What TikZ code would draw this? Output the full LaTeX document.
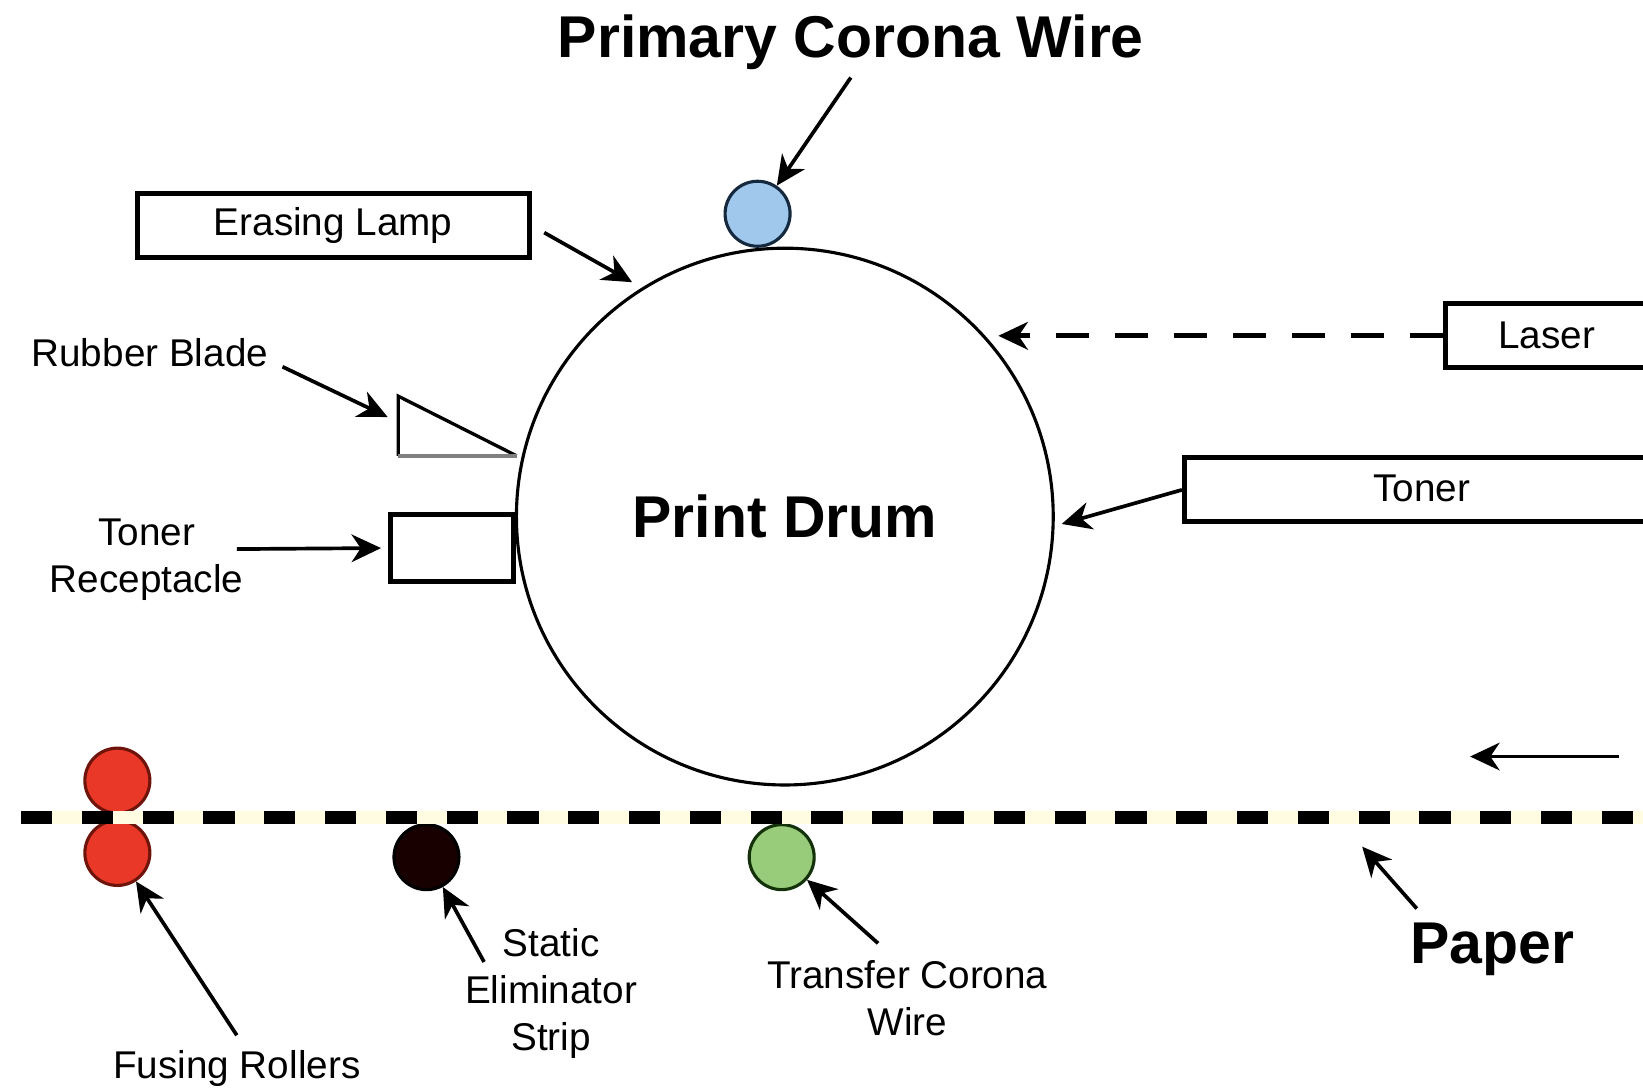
\documentclass[tikz,border=0pt]{standalone}
\usepackage{fontspec}
\setmainfont{Liberation Sans}
\usepackage[dvipsnames]{xcolor}
\usepackage{tikz}
\usetikzlibrary{arrows.meta}

\definecolor{coronablue}{RGB}{160,200,236}
\definecolor{coronaedge}{RGB}{20,40,62}
\definecolor{transfergreen}{RGB}{152,204,122}
\definecolor{transferedge}{RGB}{20,50,10}
\definecolor{fuserred}{RGB}{234,56,40}
\definecolor{fuseredge}{RGB}{110,20,10}
\definecolor{papergap}{RGB}{255,252,226}

\tikzset{
  lbl/.style={font=\fontsize{10.5}{12.8}\selectfont, align=center, inner sep=0pt},
  biglbl/.style={font=\fontsize{16}{19}\selectfont\bfseries, inner sep=0pt},
  partbox/.style={draw, line width=1.3pt, inner sep=0pt, minimum height=0.61cm},
  roller/.style={circle, draw, line width=0.85pt, inner sep=0pt, minimum size=0.62cm},
  pointer/.style={line width=1pt, -{Stealth[length=8pt,width=7.5pt,inset=2.5pt]}},
}

\begin{document}
\begin{tikzpicture}[x=0.01cm, y=-0.01cm]
\useasboundingbox (0,0) rectangle (1568,1038.4);
%
\node[circle, draw, line width=0.85pt, inner sep=0pt, minimum size=5.12cm, biglbl] (drum) at (749,493) {Print Drum};
\node[roller, fill=coronablue, draw=coronaedge] (primary) at (723,204) {};
\node[biglbl] (primarylbl) at (812,40) {Primary Corona Wire};
%
\node[partbox, minimum width=3.74cm, lbl] (lamp) at (318,215) {Erasing Lamp};
\node[lbl] (bladelbl) at (143,337) {Rubber Blade};
\coordinate (bladetop) at (380,378);
\coordinate (bladefoot) at (380,435);
\coordinate (bladeedge) at (493,435);
\draw[line width=0.9pt, line join=miter] (bladefoot) -- (bladetop) -- (bladeedge);
\draw[gray, line width=1.1pt] (bladefoot) -- (bladeedge);
\node[lbl] (receptlbl) at (140,534) {Toner\\Receptacle};
\node[partbox, minimum width=1.17cm, minimum height=0.64cm] (recept) at (431.5,523) {};
%
\node[partbox, minimum width=3.0cm, anchor=west] (laser) at (1377,320.5) {};
\node[lbl] (laserlbl) at (1476,320) {Laser};
\node[partbox, minimum width=5.5cm, anchor=west] (toner) at (1128,467.5) {};
\node[lbl] (tonerlbl) at (1357,466) {Toner};
%
\node[roller, fill=fuserred, draw=fuseredge] (fusertop) at (112,745) {};
\node[roller, fill=fuserred, draw=fuseredge] (fuserlow) at (112,814) {};
\node[roller, fill=black!90!red, draw=black] (static) at (407,818) {};
\node[roller, fill=transfergreen, draw=transferedge] (transfer) at (746,818) {};
%
\draw[papergap, line width=3.4pt] (20,780) -- (1600,780);
\draw[line width=3.4pt, dash pattern=on 8.5pt off 8pt] (20,780) -- (1600,780);
%
\node[lbl] (fusinglbl) at (226,1020) {Fusing Rollers};
\node[lbl] (staticlbl) at (526,948) {Static\\Eliminator\\Strip};
\node[lbl] (transferlbl) at (866,953) {Transfer Corona\\Wire};
\node[biglbl] (paperlbl) at (1424,906) {Paper};
\coordinate (feedstart) at (1545,722);
\coordinate (feedend) at (1403,722);
\coordinate (papertip) at (1300,808);
%
\draw[pointer] ([yshift=-2pt]primarylbl.south) -- (primary);
\draw[pointer, shorten >=3pt] ([shift={(12,7)}]lamp.east) -- (drum.122);
\draw[pointer] ([shift={(13,13)}]bladelbl.east) -- ([shift={(-10,20)}]bladetop);
\draw[pointer, shorten >=2pt] ([shift={(-7,-10)}]receptlbl.east) -- (recept.west);
\draw[pointer, line width=1.4pt, dash pattern=on 9pt off 7pt, shorten >=3.5pt] (laser.west) -- (laser.west -| drum.42);
\draw[pointer, shorten >=2pt] (toner.west) -- (drum.-2);
\draw[pointer] (feedstart) -- (feedend);
\draw[pointer] ([yshift=4pt]fusinglbl.north) -- (fuserlow);
\draw[pointer] ([shift={(-64,33)}]staticlbl.north) -- (static);
\draw[pointer] ([shift={(-28,-16)}]transferlbl.north) -- (transfer);
\draw[pointer] ([shift={(7,-13)}]paperlbl.north west) -- (papertip);
\end{tikzpicture}
\end{document}
